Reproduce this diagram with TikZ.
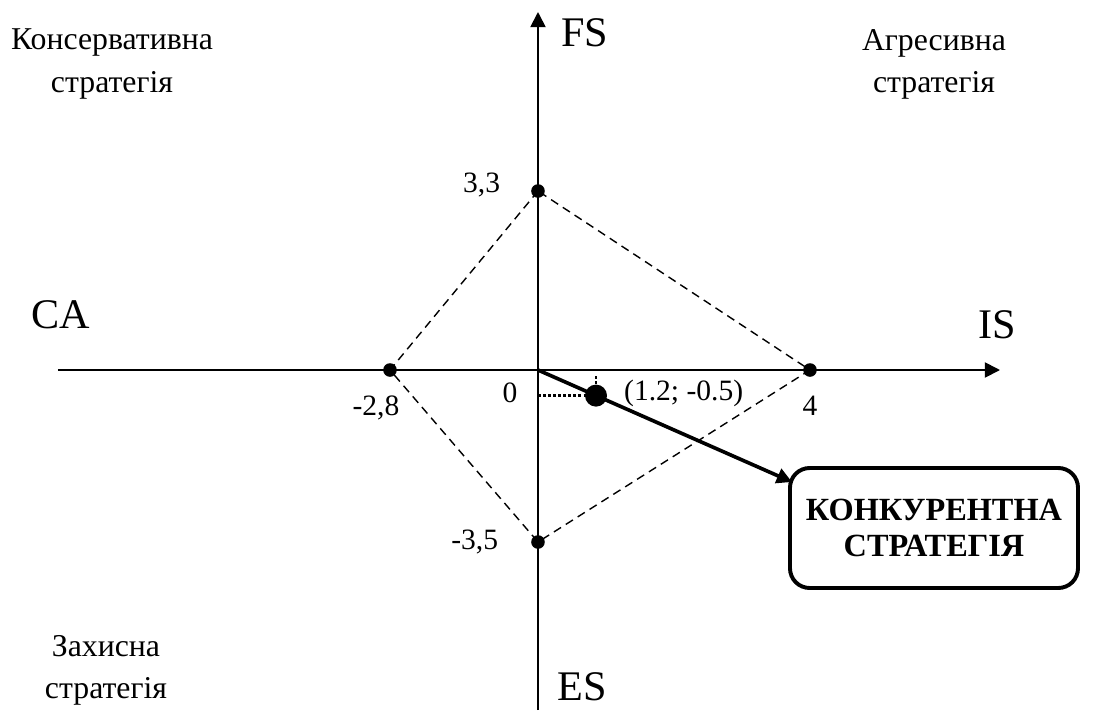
\documentclass[tikz,border=0pt]{standalone}
\usepackage{fontspec}
\setmainfont{Liberation Serif}
\usetikzlibrary{arrows.meta,positioning}
\definecolor{ink}{RGB}{0,0,0}
\tikzset{
  >={Triangle[length=3.8mm,width=3.8mm]},
  axis/.style={->,draw=ink,line width=1.3pt},
  rhomb/.style={draw=ink,line width=1pt,dash pattern=on 6pt off 4pt},
  dotline/.style={draw=ink,line width=1.8pt,dash pattern=on 1.8pt off 1.8pt},
  pt/.style={circle,fill=ink,inner sep=0pt,minimum size=#1},
  pt/.default=3.4mm,
  num/.style={font=\fontsize{21}{25}\selectfont,text=ink},
  axlab/.style={font=\fontsize{30}{35}\selectfont,text=ink},
  quad/.style={font=\fontsize{22.6}{30}\selectfont,align=center,text=ink},
  strat/.style={draw=ink,line width=2.8pt,rounded corners=14pt,minimum width=72mm,
    minimum height=30mm,align=center,font=\fontsize{23}{26}\selectfont\bfseries},
}

\begin{document}
\begin{tikzpicture}
  \useasboundingbox (-13.45,-8.575) rectangle (13.875,9.25);
  % axes
  \coordinate (O) at (0,0);
  \coordinate (w) at (-12,0);
  \coordinate (e) at (11.55,0);
  \coordinate (n) at (0,8.95);
  \coordinate (s) at (0,-8.5);
  \draw[axis] (w) -- (e);
  \draw[axis] (s) -- (n);
  % rhomb
  \foreach \name/\pos in {fs/{0,4.475},ca/{-3.7,0},is/{6.8,0},es/{0,-4.3}}
    \coordinate (\name) at (\pos);
  \draw[rhomb] (fs) -- (ca) -- (es) -- (is) -- cycle;
  \foreach \name in {fs,ca,is,es} \node[pt] (d\name) at (\name) {};
  \node[num,anchor=east] (l33) at (-0.825,4.625) {3,3};
  \node[num,anchor=east] (l35) at (-0.875,-4.3) {-3,5};
  \node[num,below=3.5mm of dca,xshift=-3.5mm] (l28) {-2,8};
  \node[num,below=3.5mm of dis] (l4) {4};
  \node[num] (l0) at (-0.7,-0.575) {0};
  % result
  \node[strat] (box) at (9.9,-3.95) {КОНКУРЕНТНА\\СТРАТЕГІЯ};
  \coordinate (tip) at (6.35,-2.8);
  \coordinate (sol) at (1.45,-0.64);
  \draw[dotline] (O |- sol) -- (sol);
  \draw[dotline] ([yshift=-1.5mm]sol |- O) -- (sol);
  \draw[->,draw=ink,line width=2.6pt] (O) -- (tip);
  \node[pt=5.5mm] (dsol) at (sol) {};
  \node[num,right=3mm of dsol,yshift=0.6mm] (lsol) {(1.2; -0.5)};
  % labels
  \node[axlab] (fsl) at (1.175,8.425) {FS};
  \node[axlab] (isl) at (11.475,1.125) {IS};
  \node[axlab] (cal) at (-11.925,1.375) {CA};
  \node[axlab] (esl) at (1.1,-7.925) {ES};
  \node[quad] (cons) at (-10.65,7.65) {Консервативна\\стратегія};
  \node[quad] (aggr) at (9.9,7.65) {Агресивна\\стратегія};
  \node[quad] (prot) at (-10.8,-7.5) {Захисна\\стратегія};
\end{tikzpicture}
\end{document}
